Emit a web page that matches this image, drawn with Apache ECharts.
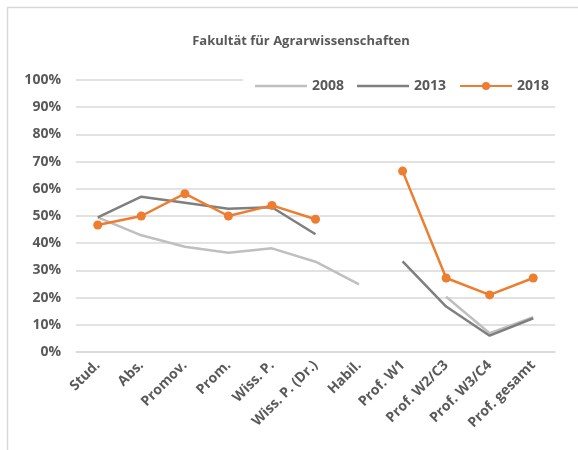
<!DOCTYPE html>
<html>
<head>
<meta charset="utf-8">
<script src="https://cdn.jsdelivr.net/npm/echarts@6/dist/echarts.min.js"></script>
<style>
html,body{margin:0;padding:0;background:#fff;}
#c{width:578px;height:450px;}
</style>
</head>
<body>
<div id="c"></div>
<script>
const categories = ['Stud.', 'Abs.', 'Promov.', 'Prom.', 'Wiss. P.', 'Wiss. P. (Dr.)', 'Habil.', 'Prof. W1', 'Prof. W2/C3', 'Prof. W3/C4', 'Prof. gesamt'];
const values2008 = [49.5, 42.9, 38.7, 36.5, 38.1, 33.2, 24.9, null, 20.3, 6.9, 12.8];
const values2013 = [49.5, 57.1, 54.9, 52.7, 53.2, 43.3, null, 33.3, 16.7, 6.0, 12.4];
const values2018 = [46.7, 50.0, 58.2, 50.0, 53.9, 48.8, null, 66.5, 27.2, 21.0, 27.2];
const yTicks = [0, 10, 20, 30, 40, 50, 60, 70, 80, 90, 100];

const FONT = '"Open Sans", sans-serif';
const TXT = '#595959';
const LINE_ICON = 'path://M0,0H52V2.5H0Z';

const chart = echarts.init(document.getElementById('c'), null, {renderer: 'canvas'});
chart.setOption({
  backgroundColor: '#fff',
  animation: false,
  title: {
    text: 'Fakultät für Agrarwissenschaften',
    left: 296,
    textAlign: 'center',
    top: 30,
    textStyle: {fontFamily: FONT, fontSize: 13, fontWeight: 'bold', color: TXT}
  },
  graphic: [{
    type: 'rect',
    shape: {x: 7.5, y: 7.5, width: 620, height: 520},
    style: {fill: 'none', stroke: '#D9D9D9', lineWidth: 1.5},
    silent: true, z: -1
  }],
  legend: {
    left: 243,
    top: 73,
    padding: [6, 6, 6, 12],
    backgroundColor: '#fff',
    itemWidth: 52,
    itemHeight: 10,
    itemGap: 13,
    textStyle: {fontFamily: FONT, fontSize: 14, fontWeight: 'bold', color: TXT},
    data: [
      {name: '2008', icon: LINE_ICON},
      {name: '2013', icon: LINE_ICON},
      {name: '2018'}
    ]
  },
  grid: {left: 76, right: 23, top: 80, bottom: 98, containLabel: false},
  xAxis: {
    type: 'category',
    data: categories,
    boundaryGap: true,
    axisLine: {show: true, lineStyle: {color: '#D9D9D9', width: 1.5}},
    axisTick: {show: false},
    axisLabel: {
      interval: 0, rotate: 45, margin: 11,
      fontFamily: FONT, fontSize: 14, fontWeight: 'bold', color: TXT
    }
  },
  yAxis: {
    type: 'value',
    min: yTicks[0],
    max: yTicks[yTicks.length - 1],
    interval: 10,
    axisLine: {show: false},
    axisTick: {show: false},
    splitLine: {lineStyle: {color: '#D9D9D9', width: 1.5}},
    axisLabel: {
      formatter: '{value}%', margin: 15,
      fontFamily: FONT, fontSize: 14, fontWeight: 'bold', color: TXT
    }
  },
  series: [
    {name: '2008', type: 'line', data: values2008, symbol: 'none', connectNulls: false,
     lineStyle: {color: '#BFBFBF', width: 2.5}, itemStyle: {color: '#BFBFBF'}},
    {name: '2013', type: 'line', data: values2013, symbol: 'none', connectNulls: false,
     lineStyle: {color: '#7F7F7F', width: 2.5}, itemStyle: {color: '#7F7F7F'}},
    {name: '2018', type: 'line', data: values2018, symbol: 'circle', symbolSize: 9, connectNulls: false,
     lineStyle: {color: '#ED7D31', width: 2.5}, itemStyle: {color: '#ED7D31'}}
  ]
});
</script>
</body>
</html>
